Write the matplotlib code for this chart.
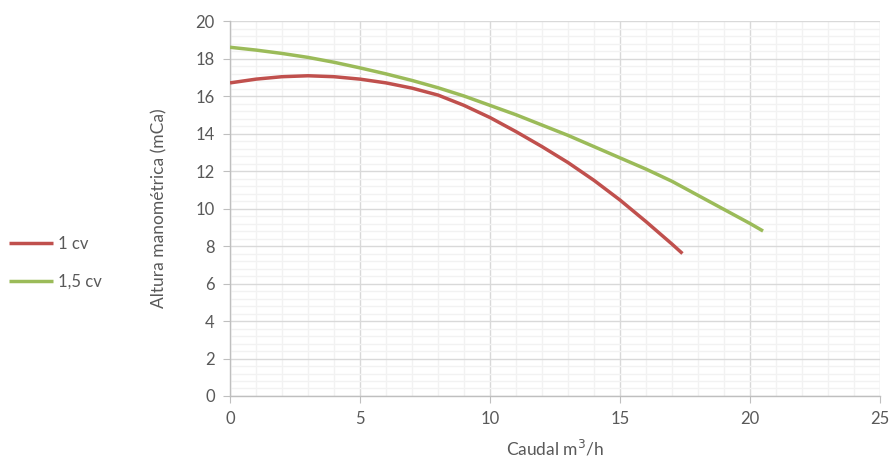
import matplotlib
matplotlib.use("Agg")
from matplotlib import pyplot as plt
from matplotlib.ticker import MultipleLocator

# data
caudal_1cv = [0, 1, 2, 3, 4, 5, 6, 7, 8, 9, 10, 11, 12, 13, 14, 15, 16, 17, 17.4]
altura_1cv = [16.7, 16.9, 17.03, 17.08, 17.03, 16.9, 16.7, 16.42, 16.05, 15.5,
              14.85, 14.1, 13.3, 12.45, 11.5, 10.45, 9.3, 8.1, 7.6]

caudal_15cv = [0, 1, 2, 3, 4, 5, 6, 7, 8, 9, 10, 11, 12, 13, 14, 15, 16, 17,
               18, 19, 20, 20.5]
altura_15cv = [18.6, 18.45, 18.27, 18.06, 17.8, 17.5, 17.18, 16.83, 16.44, 16.0,
               15.5, 15.0, 14.45, 13.9, 13.3, 12.7, 12.1, 11.45, 10.7, 9.95,
               9.2, 8.8]

series_labels = ["1 cv", "1,5 cv"]

plt.rcParams['font.family'] = ['Lato', 'DejaVu Sans']
text_color = '#595959'

fig = plt.figure(figsize=(8.93, 4.61), dpi=100)
ax = fig.add_axes([0.2576, 0.141, 0.7279, 0.8134])

ax.plot(caudal_1cv, altura_1cv, color='#C0504D', lw=2.5, label=series_labels[0],
        solid_capstyle='butt', solid_joinstyle='round', zorder=3)
ax.plot(caudal_15cv, altura_15cv, color='#9BBB59', lw=2.5, label=series_labels[1],
        solid_capstyle='butt', solid_joinstyle='round', zorder=3)

ax.set_xlim(0, 25)
ax.set_ylim(0, 20)
ax.xaxis.set_major_locator(MultipleLocator(5))
ax.xaxis.set_minor_locator(MultipleLocator(1))
ax.yaxis.set_major_locator(MultipleLocator(2))
ax.yaxis.set_minor_locator(MultipleLocator(0.4))

ax.grid(which='minor', color='#F2F2F2', lw=1.0, zorder=0)
ax.grid(which='major', color='#D9D9D9', lw=1.0, zorder=1)
ax.set_axisbelow(True)

for side in ['top', 'right']:
    ax.spines[side].set_visible(False)
for side in ['left', 'bottom']:
    ax.spines[side].set_color('#BFBFBF')
    ax.spines[side].set_linewidth(1.0)

ax.tick_params(which='major', length=5, color='#BFBFBF', labelsize=12,
               labelcolor=text_color, pad=6)
ax.tick_params(which='minor', length=0)

ax.set_xlabel('Caudal m$^3$/h', fontsize=12.5, color=text_color, labelpad=8)
ax.set_ylabel('Altura manométrica (mCa)', fontsize=12.5, color=text_color, labelpad=20)

fig.legend(loc='center left', bbox_to_anchor=(0.003, 0.43), frameon=False,
           borderaxespad=0, fontsize=12, labelcolor=text_color, handlelength=2.6,
           handletextpad=0.3, labelspacing=1.35)

fig.savefig('out.png', dpi=100)
